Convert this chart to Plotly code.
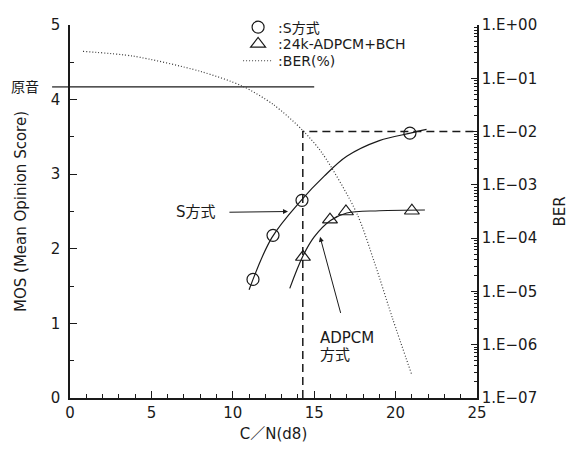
import plotly.graph_objects as go

FONT = "DejaVu Sans, Noto Sans CJK JP"
INK = "#1a1a1a"

# S方式: measured points and the fitted curve through them
s_cn = [11.24, 12.47, 14.25, 20.88]
s_mos = [1.59, 2.18, 2.65, 3.55]
s_fit_cn = [11.0, 12.4, 14.2, 15.6, 17.0, 19.0, 20.9, 21.9]
s_fit_mos = [1.45, 2.15, 2.65, 2.97, 3.24, 3.45, 3.55, 3.60]

# 24k-ADPCM+BCH: measured points and fitted curve
adpcm_cn = [14.31, 15.97, 16.95, 21.0]
adpcm_mos = [1.89, 2.39, 2.50, 2.51]
adpcm_fit_cn = [13.5, 14.3, 15.0, 16.0, 17.0, 19.0, 21.8]
adpcm_fit_mos = [1.47, 1.90, 2.16, 2.38, 2.48, 2.51, 2.52]

# Bit error rate versus C/N (right axis, log scale)
ber_cn = [0.8, 3.9, 8.0, 10.6, 12.5, 14.3, 15.5, 17.6, 18.7, 19.8, 21.0]
ber_val = [0.32, 0.26, 0.135, 0.071, 0.032, 0.0105, 0.0039, 3.0e-4, 3.5e-5, 3.2e-6, 2.7e-7]

# Reference level of the original sound and the C/N read-off guide
original_mos = 4.17
original_cn_end = 15.0
guide_cn = 14.3
guide_ber = 1e-2

ber_tickvals = [1e0, 1e-1, 1e-2, 1e-3, 1e-4, 1e-5, 1e-6, 1e-7]
ber_ticktext = ["1.E+00", "1.E−01", "1.E−02", "1.E−03", "1.E−04", "1.E−05", "1.E−06", "1.E−07"]
ber_minor = [k * 10.0 ** e for e in range(-7, 0) for k in range(2, 10)]

fig = go.Figure()

# fitted curves
fig.add_trace(go.Scatter(x=s_fit_cn, y=s_fit_mos, mode="lines", line=dict(color=INK, width=1.2, shape="spline"),
                         showlegend=False, hoverinfo="skip"))
fig.add_trace(go.Scatter(x=adpcm_fit_cn, y=adpcm_fit_mos, mode="lines", line=dict(color=INK, width=1.2, shape="spline"),
                         showlegend=False, hoverinfo="skip"))

# original sound level
fig.add_trace(go.Scatter(x=[0, original_cn_end], y=[original_mos, original_mos], mode="lines",
                         line=dict(color=INK, width=1.2), showlegend=False, hoverinfo="skip"))

# markers (legend entries)
fig.add_trace(go.Scatter(x=s_cn, y=s_mos, mode="markers", name=":S方式", legend="legend",
                         marker=dict(symbol="circle-open", size=12, color=INK, line=dict(width=1.2))))
fig.add_trace(go.Scatter(x=adpcm_cn, y=adpcm_mos, mode="markers", name=":24k-ADPCM+BCH", legend="legend2",
                         marker=dict(symbol="triangle-up-open", size=13, color=INK, line=dict(width=1.2))))

# BER curve on the right axis
fig.add_trace(go.Scatter(x=ber_cn, y=ber_val, yaxis="y2", mode="lines", name=":BER(%)", legend="legend3",
                         line=dict(color="#3a3a3a", width=1.2, dash="1px,2px", shape="spline", smoothing=0.8)))

# dashed read-off guide
fig.add_trace(go.Scatter(x=[guide_cn, guide_cn, 25], y=[1e-7, guide_ber, guide_ber], yaxis="y2", mode="lines",
                         line=dict(color=INK, width=1.5, dash="8px,5px"), showlegend=False, hoverinfo="skip"))

# short stub of the original-sound line to the left of the axis
fig.add_shape(type="line", xref="paper", yref="y", x0=-0.044, x1=0.0, y0=original_mos, y1=original_mos,
              line=dict(color=INK, width=1.2))

axis_common = dict(showline=True, linecolor=INK, linewidth=1.5, showgrid=False, zeroline=False, automargin=False,
                   ticks="inside", tickcolor=INK, tickfont=dict(family=FONT, size=15, color=INK))

legend_common = dict(xanchor="left", yanchor="top", bgcolor="rgba(0,0,0,0)",
                     font=dict(family=FONT, size=14, color=INK), itemwidth=30)

fig.update_layout(
    width=569, height=451,
    margin=dict(l=70, r=92, t=20, b=53),
    plot_bgcolor="white", paper_bgcolor="white",
    font=dict(family=FONT, size=15, color=INK),
    xaxis=dict(range=[0, 25], dtick=5, ticklen=7,
               minor=dict(ticks="inside", ticklen=4, dtick=1, tickcolor=INK),
               title=dict(text="C／N(d8)", font=dict(family=FONT, size=15), standoff=8),
               **axis_common),
    yaxis=dict(range=[0, 5], dtick=1, ticklen=7, ticklabelstandoff=5,
               minor=dict(ticks="inside", ticklen=4, dtick=0.5, tickcolor=INK),
               title=dict(text="MOS (Mean Opinion Score)", font=dict(family=FONT, size=15), standoff=20),
               **axis_common),
    yaxis2=dict(type="log", range=[-7, 0], overlaying="y", side="right",
                tickmode="array", tickvals=ber_tickvals, ticktext=ber_ticktext, ticklen=6,
                minor=dict(ticks="inside", ticklen=3, tickmode="array", tickvals=ber_minor, tickcolor=INK),
                title=dict(text="BER", font=dict(family=FONT, size=15), standoff=31),
                **axis_common),
    legend=dict(x=0.413, y=1.036, **legend_common),
    legend2=dict(x=0.413, y=0.991, **legend_common),
    legend3=dict(x=0.413, y=0.946, **legend_common),
    annotations=[
        dict(xref="paper", yref="y", x=-0.072, y=original_mos, text="原音", showarrow=False,
             xanchor="right", yanchor="middle", font=dict(size=14)),
        dict(x=7.74, y=2.49, text="S方式", showarrow=False),
        dict(x=13.39, y=2.50, ax=9.7, ay=2.49, axref="x", ayref="y", text="", showarrow=True,
             arrowhead=2, arrowsize=1, arrowwidth=1, arrowcolor=INK),
        dict(x=15.23, y=0.80, text="ADPCM", showarrow=False, xanchor="left"),
        dict(x=15.23, y=0.57, text="方式", showarrow=False, xanchor="left"),
        dict(x=15.36, y=2.16, ax=16.65, ay=1.12, axref="x", ayref="y", text="", showarrow=True,
             arrowhead=2, arrowsize=1, arrowwidth=1, arrowcolor=INK),
    ],
)

fig.write_html("out.html")
